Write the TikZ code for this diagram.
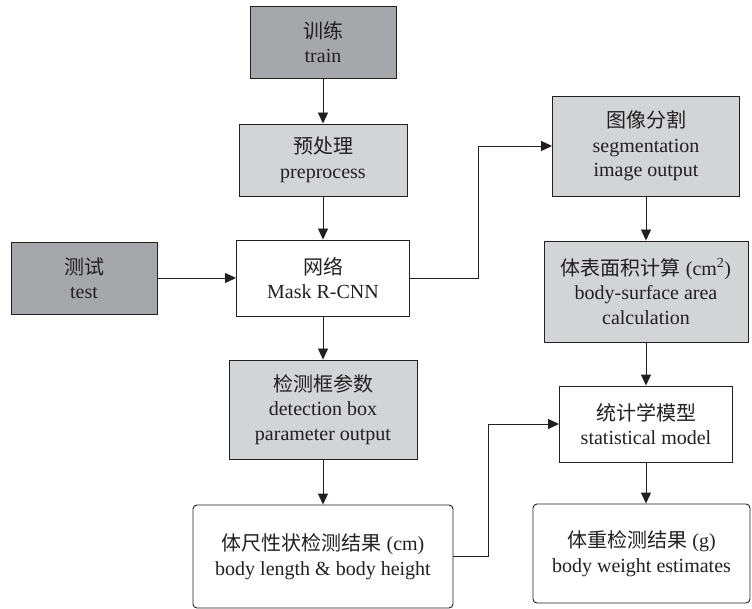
\documentclass[tikz,border=0pt]{standalone}
\usepackage{fontspec}
\setmainfont{Liberation Serif}
\newfontfamily\cjk{Noto Sans CJK SC}
\usetikzlibrary{arrows.meta}
\definecolor{darkbox}{HTML}{A6A7AA}
\definecolor{lightbox}{HTML}{D3D4D6}
\definecolor{ink}{HTML}{231F20}
\tikzset{
  box/.style={draw=ink, line width=0.9pt, align=center, text=ink, inner sep=2pt,
    font=\fontsize{20}{24.5}\selectfont},
  darkfill/.style={box, fill=darkbox},
  lightfill/.style={box, fill=lightbox},
  whitebox/.style={box, fill=white},
  roundbox/.style={box, fill=white, rounded corners=4pt},
  arr/.style={draw=ink, line width=0.9pt, -{Triangle[width=10pt,length=11pt]}}
}
\begin{document}
\begin{tikzpicture}[x=1pt,y=-1pt]
\path[use as bounding box, fill=white] (0,0) rectangle (752,609);
\node[darkfill, minimum width=146pt, minimum height=72pt] (train) at (323,42) {{\cjk 训练}\\train};
\node[lightfill, minimum width=168pt, minimum height=72pt] (pre) at (323,160) {{\cjk 预处理}\\preprocess};
\node[darkfill, minimum width=146pt, minimum height=72pt] (test) at (84,278) {{\cjk 测试}\\test};
\node[whitebox, minimum width=173pt, minimum height=76pt] (net) at (323,278) {{\cjk 网络}\\Mask R-CNN};
\node[lightfill, minimum width=188pt, minimum height=99pt] (det) at (323,409.5) {{\cjk 检测框参数}\\detection box\\parameter output};
\node[roundbox, minimum width=260pt, minimum height=103pt] (len) at (323,556.5) {{\cjk 体尺性状检测结果} (cm)\\body length \& body height};
\node[lightfill, minimum width=187pt, minimum height=100pt] (seg) at (646,146) {{\cjk 图像分割}\\segmentation\\image output};
\node[lightfill, minimum width=204pt, minimum height=101pt] (surf) at (646,291.5) {{\cjk 体表面积计算} (cm\textsuperscript{2})\\body-surface area\\calculation};
\node[whitebox, minimum width=173pt, minimum height=76pt] (stat) at (646,424) {{\cjk 统计学模型}\\statistical model};
\node[roundbox, minimum width=217pt, minimum height=99pt] (weight) at (641.5,553.5) {{\cjk 体重检测结果} (g)\\body weight estimates};
\draw[arr] (train) -- (pre);
\draw[arr] (pre) -- (net);
\draw[arr] (test) -- (net);
\draw[arr] (net) -- (det);
\draw[arr] (det) -- (len);
\draw[arr] (net.east) -- ++(68,0) |- (seg.west);
\draw[arr] (seg) -- (surf);
\draw[arr] (surf) -- (stat);
\draw[arr] (stat) -- (stat |- weight.north);
\draw[arr] (len.east) -- ++(35,0) |- (stat.west);
\end{tikzpicture}
\end{document}
